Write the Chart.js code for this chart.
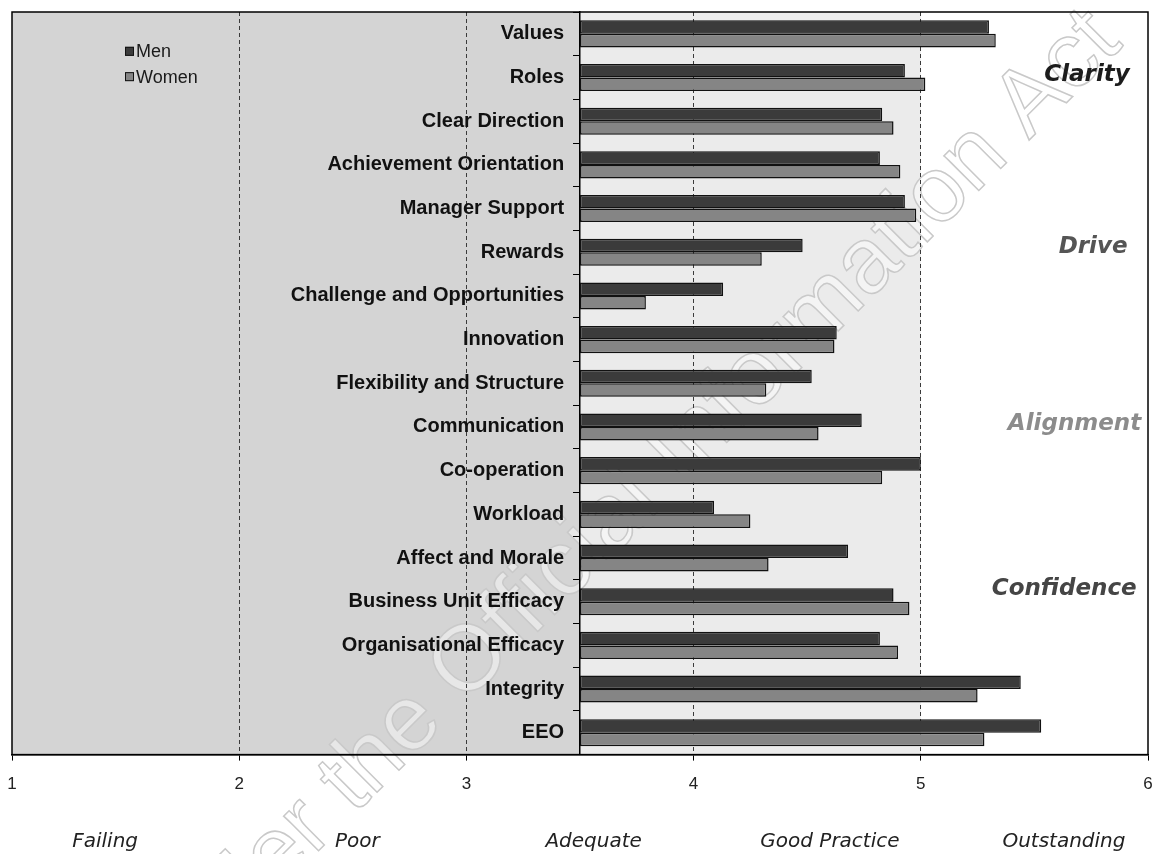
<!DOCTYPE html>
<html>
<head>
<meta charset="utf-8">
<title>Climate dimensions by gender</title>
<script src="https://cdn.jsdelivr.net/npm/chart.js@4.4.1/dist/chart.umd.min.js"></script>
<style>
  html, body { margin: 0; padding: 0; background: #fff; }
</style>
</head>
<body>
<canvas id="climateChart" width="1159" height="854"></canvas>
<script>
// Climate dimension scores by gender (scale 1-6, bars drawn from 3.5)
const dimensions = ['Values', 'Roles', 'Clear Direction', 'Achievement Orientation', 'Manager Support',
  'Rewards', 'Challenge and Opportunities', 'Innovation', 'Flexibility and Structure', 'Communication',
  'Co-operation', 'Workload', 'Affect and Morale', 'Business Unit Efficacy', 'Organisational Efficacy',
  'Integrity', 'EEO'];
const menScores = [5.30, 4.93, 4.83, 4.82, 4.93, 4.48, 4.13, 4.63, 4.52, 4.74, 5.00, 4.09, 4.68, 4.88, 4.82, 5.44, 5.53];
const womenScores = [5.33, 5.02, 4.88, 4.91, 4.98, 4.30, 3.79, 4.62, 4.32, 4.55, 4.83, 4.25, 4.33, 4.95, 4.90, 5.25, 5.28];
const scaleTicks = [1, 2, 3, 4, 5, 6];
const ratingBands = ['Failing', 'Poor', 'Adequate', 'Good Practice', 'Outstanding'];
const groupNames = ['Clarity', 'Drive', 'Alignment', 'Confidence'];

const BAR_BASE = 3.5;
const LABEL_EDGE = 3.43;   // right edge of the dimension names, just left of the axis
const SANS = '"Liberation Sans", Arial, sans-serif';
const VERDANA = '"DejaVu Sans", Verdana, sans-serif';

// where the rating band names sit along the x scale
const bandAt = [1.41, 2.52, 3.56, 4.60, 5.63];
// group names: right edge on x scale, row position on y scale, style
const groupStyle = [
  { x: 5.92, y: 0.94, color: '#1c1c1c' },
  { x: 5.91, y: 4.88, color: '#555' },
  { x: 5.97, y: 8.94, color: '#8c8c8c' },
  { x: 5.95, y: 12.72, color: '#454545' }
];

// keep the plot frame where the layout padding puts it
function noEdgePadding(scale) {
  scale.paddingLeft = 0;
  scale.paddingRight = 0;
  scale.paddingTop = 0;
  scale.paddingBottom = 0;
}

const backdrop = {
  id: 'backdrop',
  beforeDraw(chart) {
    const { ctx, chartArea: a, scales: { x } } = chart;
    const x1 = x.getPixelForValue(1);
    const xBase = x.getPixelForValue(BAR_BASE);
    const x5 = x.getPixelForValue(5);
    ctx.save();
    ctx.fillStyle = '#d4d4d4';
    ctx.fillRect(x1, a.top, xBase - x1, a.bottom - a.top);
    ctx.fillStyle = '#ebebeb';
    ctx.fillRect(xBase, a.top, x5 - xBase, a.bottom - a.top);

    // faint release stamp running across the page, under everything else
    ctx.translate(1106, 27);
    ctx.rotate(-Math.PI / 4);
    ctx.font = '93px ' + SANS;
    ctx.textAlign = 'right';
    ctx.textBaseline = 'middle';
    ctx.fillStyle = 'rgba(255,255,255,0.45)';
    ctx.fillText('under the Official Information Act', 0, 0);
    ctx.strokeStyle = '#c9c9c9';
    ctx.lineWidth = 1.5;
    ctx.strokeText('under the Official Information Act', 0, 0);
    ctx.restore();
  },
  afterDraw(chart) {
    const { ctx, chartArea: a, scales: { x, y } } = chart;
    ctx.save();

    // frame round the plot
    ctx.strokeStyle = '#000';
    ctx.lineWidth = 1.5;
    ctx.strokeRect(a.left, a.top, a.right - a.left, a.bottom - a.top);

    // legend, top left inside the plot
    chart.data.datasets.forEach((ds, i) => {
      const lx = a.left + 113;
      const ly = y.getPixelForValue(0.4 + i * 0.58);
      ctx.fillStyle = ds.backgroundColor;
      ctx.fillRect(lx, ly - 4.5, 9, 9);
      ctx.strokeStyle = '#111';
      ctx.lineWidth = 1;
      ctx.strokeRect(lx + 0.5, ly - 4, 8, 8);
      ctx.fillStyle = '#1a1a1a';
      ctx.font = '18px ' + SANS;
      ctx.textAlign = 'left';
      ctx.textBaseline = 'middle';
      ctx.fillText(ds.label, lx + 11, ly + 1);
    });

    // group names down the right side
    ctx.font = 'italic bold 23px ' + VERDANA;
    ctx.textAlign = 'right';
    ctx.textBaseline = 'middle';
    groupNames.forEach((name, i) => {
      const g = groupStyle[i];
      ctx.fillStyle = g.color;
      ctx.fillText(name, x.getPixelForValue(g.x), y.getPixelForValue(g.y));
    });

    // rating bands under the axis
    ctx.font = 'italic 20px ' + VERDANA;
    ctx.textAlign = 'center';
    ctx.textBaseline = 'middle';
    ctx.fillStyle = '#222';
    ratingBands.forEach((name, i) => {
      ctx.fillText(name, x.getPixelForValue(bandAt[i]), a.bottom + 87);
    });
    ctx.restore();
  }
};

const ctx = document.getElementById('climateChart').getContext('2d');
new Chart(ctx, {
  type: 'bar',
  data: {
    labels: dimensions,
    datasets: [
      {
        label: 'Men',
        data: menScores,
        base: BAR_BASE,
        backgroundColor: '#3b3b3b',
        borderColor: '#111',
        borderWidth: 1.5,
        borderSkipped: false,
        categoryPercentage: 0.62,
        barPercentage: 1.0
      },
      {
        label: 'Women',
        data: womenScores,
        base: BAR_BASE,
        backgroundColor: '#858585',
        borderColor: '#111',
        borderWidth: 1.5,
        borderSkipped: false,
        categoryPercentage: 0.62,
        barPercentage: 1.0
      }
    ]
  },
  options: {
    indexAxis: 'y',
    responsive: false,
    animation: false,
    devicePixelRatio: 1,
    layout: { padding: { top: 12, left: 12, right: 11, bottom: 45 } },
    plugins: {
      legend: { display: false },
      tooltip: { enabled: false }
    },
    scales: {
      x: {
        type: 'linear',
        min: scaleTicks[0],
        max: scaleTicks[scaleTicks.length - 1],
        afterBuildTicks(scale) {
          scale.ticks = scaleTicks.map(v => ({ value: v }));
        },
        afterFit: noEdgePadding,
        ticks: {
          color: '#222',
          font: { family: SANS, size: 17 },
          padding: 14
        },
        grid: {
          color: c => (c.tick && (c.tick.value === 1 || c.tick.value === 6)) ? 'rgba(0,0,0,0)' : '#3a3a3a',
          lineWidth: 1,
          tickLength: 6,
          tickColor: '#000',
          tickBorderDash: []
        },
        border: { display: true, color: '#000', width: 1.5, dash: [4, 3] }
      },
      // dimension names, right-aligned a little left of the axis line
      y: {
        position: { x: LABEL_EDGE },
        afterFit: noEdgePadding,
        ticks: {
          color: '#111',
          font: { family: SANS, size: 20, weight: 'bold' },
          autoSkip: false
        },
        grid: { display: false },
        border: { display: false }
      },
      // the axis line itself with its tick marks between the rows
      yAxisLine: {
        type: 'category',
        axis: 'y',
        labels: dimensions,
        position: { x: BAR_BASE },
        afterFit: noEdgePadding,
        ticks: { display: false },
        grid: {
          offset: true,
          drawOnChartArea: false,
          tickLength: 6,
          tickColor: '#000'
        },
        border: { display: true, color: '#000', width: 1.5 }
      }
    }
  },
  plugins: [backdrop]
});
</script>
</body>
</html>
